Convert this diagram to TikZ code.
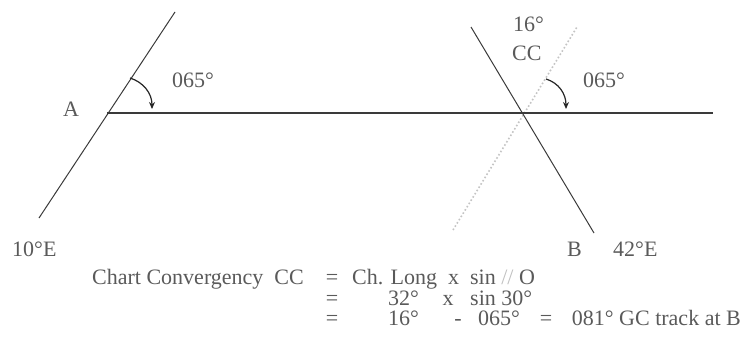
\documentclass[tikz,border=0pt]{standalone}
\usepackage{fontspec}
\setmainfont{Liberation Serif}
\usetikzlibrary{arrows.meta}
\definecolor{inkline}{HTML}{3A3A3A}
\definecolor{inktext}{HTML}{5A5A5A}
\definecolor{dotline}{HTML}{C4C4C4}
\tikzset{
  lbl/.style={inner sep=0pt, text=inktext, font=\fontsize{22}{24}\selectfont},
  meridian/.style={draw=inkline, line width=1pt},
  track/.style={draw=inkline, line width=1.3pt},
  ghost/.style={draw=dotline, line width=1.6pt, dash pattern=on 1.6pt off 2.2pt},
  turn/.style={draw=black!85, line width=1.2pt, -{Stealth[length=7pt,width=6pt]}}
}
\begin{document}
\begin{tikzpicture}[x=1pt,y=-1pt]
\useasboundingbox (0,0) rectangle (750,345);
% points
\coordinate (A) at (107,113);
\coordinate (Atop) at (175,12);
\coordinate (Abot) at (39,218);
\coordinate (X) at (522,113);
\coordinate (Btop) at (471,27);
\coordinate (Bbot) at (594,233);
\coordinate (Dtop) at (577,27);
\coordinate (Dbot) at (453,230);
\coordinate (Tend) at (713,113);
% lines
\draw[ghost] (Dbot) -- (Dtop);
\draw[meridian] (Abot) -- (Atop);
\draw[meridian] (Btop) -- (Bbot);
\draw[track] (A) -- (Tend);
% arrows
\coordinate (a1s) at (130,78);
\coordinate (a1e) at (152,109);
\coordinate (a2s) at (546,79);
\coordinate (a2e) at (566,109);
\draw[turn] (a1s) .. controls (143,82) and (152,93) .. (a1e);
\draw[turn] (a2s) .. controls (559,83) and (566,94) .. (a2e);
% labels
\node[lbl, anchor=base west] (lA) at (63,117) {A};
\node[lbl, anchor=base west] (lang1) at (172,88) {065°};
\node[lbl, anchor=base west] (l16) at (513,32) {16°};
\node[lbl, anchor=base west] (lCC) at (512,60) {CC};
\node[lbl, anchor=base west] (lang2) at (583,88) {065°};
\node[lbl, anchor=base west] (l10E) at (12,256) {10°E};
\node[lbl, anchor=base west] (lB) at (567,256) {B};
\node[lbl, anchor=base west] (l42E) at (613,256) {42°E};
% formula
\node[lbl, anchor=base east] (f1a) at (304,284) {Chart Convergency\ \ CC};
\node[lbl, anchor=base] (f1e) at (332,284) {=};
\node[lbl, anchor=base west] (f1b) at (352,284) {Ch. Long\ \ x\ \ sin {\color{black!25}//} O};
\node[lbl, anchor=base] (f2e) at (332,305) {=};
\node[lbl, anchor=base west] (f2a) at (388,305) {32°};
\node[lbl, anchor=base] (f2x) at (448,305) {x};
\node[lbl, anchor=base west] (f2b) at (470,305) {sin 30°};
\node[lbl, anchor=base] (f3e) at (332,325) {=};
\node[lbl, anchor=base west] (f3a) at (388,325) {16°};
\node[lbl, anchor=base] (f3m) at (458,325) {-};
\node[lbl, anchor=base west] (f3b) at (478,325) {065°};
\node[lbl, anchor=base] (f3e2) at (546,325) {=};
\node[lbl, anchor=base east] (f3c) at (741,325) {081° GC track at B};
\end{tikzpicture}
\end{document}
